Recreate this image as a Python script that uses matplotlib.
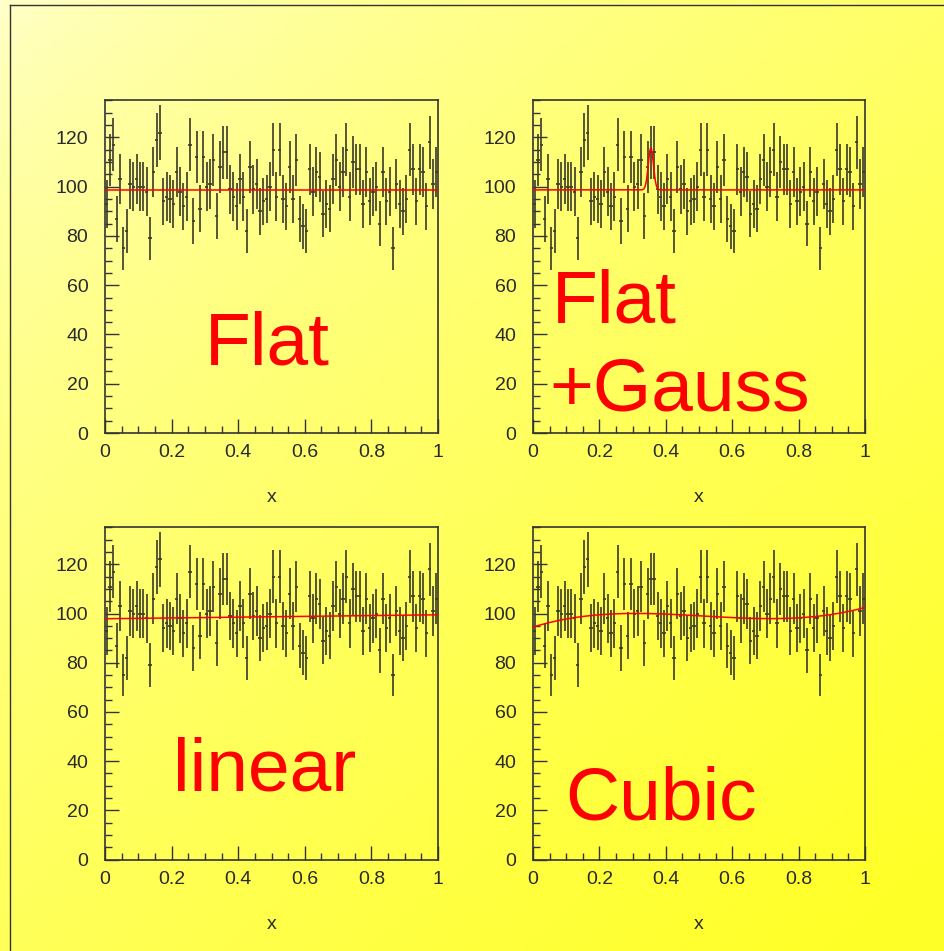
import numpy as np
import matplotlib
matplotlib.use("Agg")
import matplotlib.pyplot as plt
from matplotlib.lines import Line2D
from matplotlib.ticker import MultipleLocator

# ---------------- data ----------------
counts = [93, 111, 117, 87, 103, 75, 82, 101, 100, 103,
          100, 100, 98, 79, 106, 119, 122, 94, 96, 95,
          93, 106, 98, 92, 96, 117, 86, 112, 91, 112,
          100, 101, 111, 88, 108, 114, 114, 99, 96, 92,
          103, 96, 82, 108, 99, 101, 90, 94, 95, 100,
          115, 96, 115, 95, 92, 108, 95, 111, 87, 84,
          82, 107, 98, 106, 104, 89, 93, 91, 103, 111,
          100, 106, 115, 96, 110, 107, 107, 93, 106, 94,
          98, 100, 85, 106, 94, 98, 75, 101, 93, 90,
          95, 115, 107, 94, 107, 106, 92, 118, 101, 106]
n_bins = len(counts)
x_range = [0.0, 1.0]

panel_titles = ["Flat", "Flat\n+Gauss", "linear", "Cubic"]
flat_const = [98.8]
gauss_params = [98.7, 17.0, 0.355, 0.0078]   # const, amplitude, mean, sigma
linear_params = [97.9, 1.6]                   # p0, p1
cubic_params = [94.5, 41.9, -96.9, 63.0]       # p0..p3
xtick_values = [0, 0.2, 0.4, 0.6, 0.8, 1]
xtick_labels = ["0", "0.2", "0.4", "0.6", "0.8", "1"]
ytick_values = [0, 20, 40, 60, 80, 100, 120]
axis_title = "x"

# ---------------- figure ----------------
W, H = 944, 951
fig = plt.figure(figsize=(W / 100, H / 100), dpi=100)

# background gradient
bg = fig.add_axes([0, 0, 1, 1], zorder=-10)
gx, gy = np.meshgrid(np.linspace(0, 1, 300), np.linspace(0, 1, 300))
t = np.clip((gx * 0.95 + gy * 1.15) / 2.0, 0, 1) ** 0.65
blue = 205 - 165 * t
img = np.dstack([np.full_like(t, 255), np.full_like(t, 255), blue]) / 255.0
bg.imshow(img, extent=[0, 1, 1, 0], aspect="auto", origin="upper")
bg.set_xlim(0, 1)
bg.set_ylim(1, 0)
bg.axis("off")

# frame lines (left and top)
fx = 10 / W
fy = 1 - 5 / H
fig.add_artist(Line2D([fx, fx], [0, fy], color="#333333", lw=1.0, transform=fig.transFigure))
fig.add_artist(Line2D([fx, 1], [fy, fy], color="#333333", lw=1.0, transform=fig.transFigure))

font = "Liberation Sans"
edges = np.linspace(x_range[0], x_range[1], n_bins + 1)
centers = 0.5 * (edges[:-1] + edges[1:])
yvals = np.array(counts, dtype=float)
yerr = np.sqrt(yvals)
half = 0.5 * (edges[1] - edges[0])
xf = np.linspace(0, 1, 1000)

def f_flat(x):
    return np.full_like(x, flat_const[0])

def f_gauss(x):
    c, a, m, s = gauss_params
    return c + a * np.exp(-0.5 * ((x - m) / s) ** 2)

def f_linear(x):
    return linear_params[0] + linear_params[1] * x

def f_cubic(x):
    p0, p1, p2, p3 = cubic_params
    return p0 + p1 * x + p2 * x ** 2 + p3 * x ** 3

funcs = [f_flat, f_gauss, f_linear, f_cubic]

# axes rectangles in pixels: (left, top, right, bottom)
rects = [(105, 100, 438, 433), (533, 100, 865, 433),
         (105, 527, 438, 859.5), (533, 527, 865, 859.5)]

# text placement (axes fraction, left/baseline)
text_pos = [
    [(0.300, 0.207, "Flat")],
    [(0.058, 0.333, "Flat"), (0.050, 0.069, "+Gauss")],
    [(0.205, 0.209, "linear")],
    [(0.098, 0.119, "Cubic")],
]

for k, (l, tp, r, b) in enumerate(rects):
    ax = fig.add_axes([l / W, 1 - b / H, (r - l) / W, (b - tp) / H])
    ax.set_facecolor("none")
    ax.errorbar(centers, yvals, yerr=yerr, xerr=half, fmt="none",
                ecolor="#3a3a28", elinewidth=1.2, capsize=0)
    ax.plot(xf, funcs[k](xf), color="#ff0000", lw=1.1, zorder=5)
    ax.set_xlim(0, 1)
    ax.set_ylim(0, 135.2)
    for side in ["left", "bottom", "right", "top"]:
        ax.spines[side].set_color("#333333")
        ax.spines[side].set_linewidth(1.2)
    ax.set_xticks(xtick_values)
    ax.set_xticklabels(xtick_labels)
    ax.set_yticks(ytick_values)
    ax.xaxis.set_minor_locator(MultipleLocator(0.05))
    ax.yaxis.set_minor_locator(MultipleLocator(5))
    ax.tick_params(which="major", direction="in", length=10, width=1.0,
                   color="#333333", labelsize=14, labelcolor="#2a2a2a")
    ax.tick_params(which="minor", direction="in", length=5, width=1.0, color="#333333")
    ax.tick_params(axis="x", which="major", pad=8)
    ax.tick_params(axis="y", which="major", pad=12)
    ax.tick_params(top=False, right=False, which="both")
    for lab in ax.get_xticklabels() + ax.get_yticklabels():
        lab.set_fontfamily(font)
    ax.text(0.5, -0.195, axis_title, transform=ax.transAxes, ha="center",
            va="center", fontsize=14, family=font, color="#2a2a2a")
    for (tx, ty, s) in text_pos[k]:
        ax.text(tx, ty, s, transform=ax.transAxes, ha="left", va="baseline",
                fontsize=54, family=font, color="#ff0000", zorder=6)

fig.savefig("out.png", dpi=100)
